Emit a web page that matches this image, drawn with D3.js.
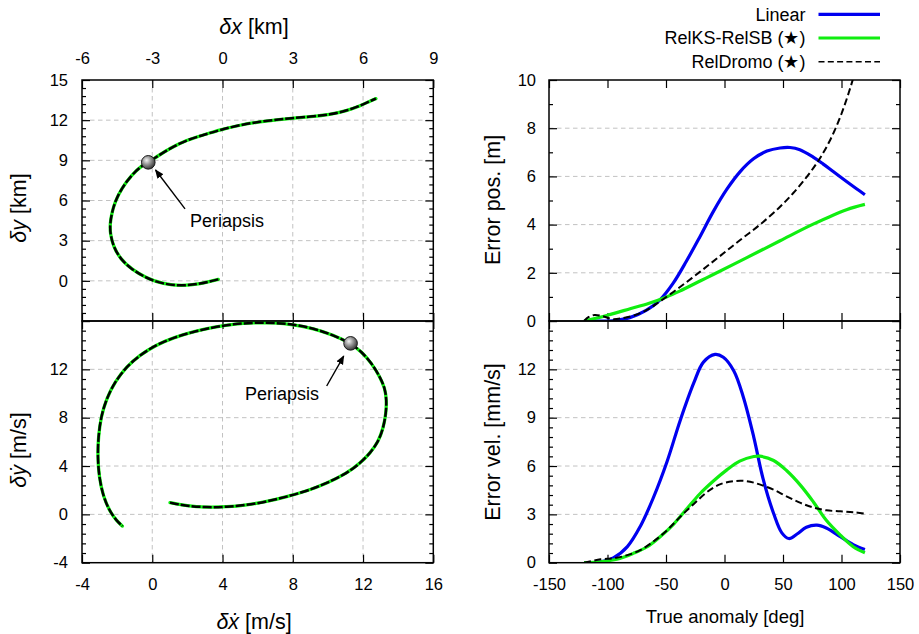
<!DOCTYPE html>
<html>
<head>
<meta charset="utf-8">
<script src="https://cdn.jsdelivr.net/npm/d3@7"></script>
<style>
  body { margin: 0; background: #fff; }
  svg { font-family: "Liberation Sans", Arial, Helvetica, sans-serif; }
</style>
</head>
<body>
<svg id="fig" width="919" height="634"></svg>
<script>
// ---------- data ----------
// relative position trajectory [km]
const posDx = [-0.18, -0.96, -1.75, -2.53, -3.24, -3.88, -4.35, -4.66, -4.80, -4.80, -4.73, -4.59, -4.31, -3.88, -3.45, -3.17, -2.81, -2.24, -1.53, -0.82, -0.11, 0.75, 1.60, 2.45, 3.02, 3.73, 4.59, 5.30, 5.87, 6.30, 6.55];
const posDy = [0.11, -0.24, -0.38, -0.24, 0.19, 0.86, 1.61, 2.55, 3.55, 4.30, 5.04, 5.91, 6.91, 7.91, 8.60, 8.85, 9.27, 9.90, 10.52, 10.89, 11.27, 11.64, 11.89, 12.06, 12.16, 12.26, 12.41, 12.71, 13.06, 13.43, 13.61];

// relative velocity trajectory [m/s]
const velDx = [1.01, 1.96, 3.10, 4.24, 5.37, 6.51, 7.65, 8.79, 9.93, 11.07, 11.83, 12.39, 12.87, 13.15, 13.31, 13.34, 13.25, 12.96, 12.49, 11.92, 11.29, 10.31, 9.17, 8.03, 6.89, 5.75, 4.61, 3.48, 2.34, 1.20, 0.25, -0.70, -1.46, -2.12, -2.60, -2.92, -3.07, -3.11, -3.03, -2.79, -2.41, -2.03, -1.70];
const velDy = [0.97, 0.69, 0.58, 0.61, 0.77, 1.05, 1.46, 1.93, 2.57, 3.39, 4.22, 5.05, 6.01, 7.12, 8.36, 9.46, 10.43, 11.39, 12.50, 13.46, 14.15, 14.84, 15.39, 15.72, 15.86, 15.86, 15.75, 15.48, 15.12, 14.62, 14.04, 13.19, 12.22, 10.98, 9.60, 8.08, 6.43, 4.77, 3.12, 1.46, 0.22, -0.52, -0.97];

// periapsis markers
const periPos = { x: -3.17, y: 8.85 };
const periVel = { x: 11.29, y: 14.15 };

// position error [m] vs true anomaly [deg]
const linPosNu  = [-120, -110, -96, -81, -67, -55.5, -44, -32.6, -21, -9.6, 1.9, 13.4, 24.8, 36.3, 47.5, 56, 64.4, 75.8, 84.4, 92.9, 104.3, 112.8, 120];
const linPosErr = [0, 0, 0.01, 0.14, 0.44, 0.86, 1.56, 2.48, 3.50, 4.54, 5.46, 6.20, 6.73, 7.05, 7.18, 7.20, 7.11, 6.80, 6.51, 6.20, 5.79, 5.49, 5.24];
const ksPosNu   = [-120, -100, -80, -65, -50, -38.3, -20, -9.6, 19.1, 47.5, 75.8, 104.3, 120];
const ksPosErr  = [0, 0.24, 0.52, 0.73, 0.99, 1.24, 1.68, 1.93, 2.63, 3.33, 4.02, 4.62, 4.84];
const droPosNu  = [-120, -116, -111, -104, -96, -88, -78, -67, -55.5, -38.3, -21, -4, 13.4, 30.6, 47.5, 58.8, 70, 78.7, 84.4, 90, 95.7, 100, 104.3, 108.5, 112];
const droPosErr = [0, 0.17, 0.25, 0.20, 0.08, 0.11, 0.22, 0.44, 0.80, 1.40, 2.04, 2.69, 3.36, 4.01, 4.74, 5.31, 5.96, 6.54, 6.98, 7.48, 8.08, 8.60, 9.19, 9.83, 10.41];

// velocity error [mm/s] vs true anomaly [deg]
const linVelNu  = [-120, -106, -95, -83, -72, -61, -49, -38, -26, -18, -8, -1, 8, 16, 25, 33, 42, 49, 55, 62, 70, 79, 87, 99, 110, 120];
const linVelErr = [0, 0.06, 0.30, 1.00, 2.25, 4.00, 6.30, 8.80, 11.20, 12.45, 12.93, 12.75, 11.90, 10.30, 7.80, 5.20, 3.05, 1.85, 1.50, 1.78, 2.20, 2.33, 2.15, 1.62, 1.12, 0.82];
const ksVelNu   = [-120, -106, -92, -78, -66, -55, -43, -32, -21, -9, 2, 13, 25, 30, 42, 53, 65, 76, 87, 99, 110, 120];
const ksVelErr  = [0, 0.06, 0.21, 0.58, 0.99, 1.61, 2.43, 3.36, 4.28, 5.10, 5.76, 6.30, 6.59, 6.61, 6.34, 5.72, 4.80, 3.77, 2.63, 1.71, 0.99, 0.62];
const droVelNu  = [-120, -106, -95, -83, -72, -61, -49, -38, -26, -15, -4, 8, 19, 30, 42, 53, 65, 76, 87, 99, 110, 120];
const droVelErr = [0, 0.21, 0.27, 0.47, 0.78, 1.30, 2.02, 2.84, 3.66, 4.38, 4.86, 5.06, 5.06, 4.86, 4.53, 4.12, 3.71, 3.42, 3.25, 3.19, 3.13, 3.05];

// axis ticks
const posXTicks = [-6, -3, 0, 3, 6, 9];
const posYTicks = [-3, 0, 3, 6, 9, 12, 15];
const velXTicks = [-4, 0, 4, 8, 12, 16];
const velYTicks = [-4, 0, 4, 8, 12, 16];
const nuTicks = [-150, -100, -50, 0, 50, 100, 150];
const errPosTicks = [0, 2, 4, 6, 8, 10];
const errVelTicks = [0, 3, 6, 9, 12, 15];

const seriesNames = ["Linear", "RelKS-RelSB (\u2605)", "RelDromo (\u2605)"];

// ---------- styles ----------
const C_LIN = "#0000f0", C_KS = "#10ee10", C_DRO = "#000";
const TICK_FONT = 16.5, TITLE_FONT = 21.5;

const svg = d3.select("#fig");
const defs = svg.append("defs");

// shaded sphere for the periapsis marker
const grad = defs.append("radialGradient").attr("id", "sphere")
  .attr("cx", "38%").attr("cy", "35%").attr("r", "65%");
grad.append("stop").attr("offset", "0%").attr("stop-color", "#f2f2f2");
grad.append("stop").attr("offset", "45%").attr("stop-color", "#9a9a9a");
grad.append("stop").attr("offset", "100%").attr("stop-color", "#3a3a3a");

defs.append("marker").attr("id", "arrowhead")
  .attr("viewBox", "0 0 10 10").attr("refX", 9).attr("refY", 5)
  .attr("markerWidth", 9).attr("markerHeight", 9).attr("markerUnits", "userSpaceOnUse")
  .attr("orient", "auto")
  .append("path").attr("d", "M0,0.8 L10,5 L0,9.2 Z").attr("fill", "#000");

let clipId = 0;

function minorValues(major, n) {
  const out = [];
  for (let i = 0; i < major.length - 1; i++) {
    const a = major[i], b = major[i + 1];
    for (let k = 1; k < n; k++) out.push(a + (b - a) * k / n);
  }
  return out;
}

// one framed panel with ticks, grid and labels
function panel(o) {
  const x = d3.scaleLinear().domain(o.xDomain).range([o.x0, o.x1]);
  const y = d3.scaleLinear().domain(o.yDomain).range([o.y1, o.y0]);
  const g = svg.append("g");

  const id = "clip" + (clipId++);
  defs.append("clipPath").attr("id", id).append("rect")
    .attr("x", o.x0).attr("y", o.y0).attr("width", o.x1 - o.x0).attr("height", o.y1 - o.y0);

  // grid
  const grid = g.append("g").attr("stroke", "#c2c2c2").attr("stroke-width", 1)
    .attr("stroke-dasharray", "4.5,3.5").attr("fill", "none");
  grid.selectAll("line.h")
    .data(o.yTicks.filter(v => v > o.yDomain[0] && v < o.yDomain[1]))
    .join("line").attr("class", "h")
    .attr("x1", o.x0).attr("x2", o.x1).attr("y1", d => y(d)).attr("y2", d => y(d));
  if (o.vGrid) {
    grid.selectAll("line.v")
      .data(o.xTicks.filter(v => v > o.xDomain[0] && v < o.xDomain[1]))
      .join("line").attr("class", "v")
      .attr("y1", o.y0).attr("y2", o.y1).attr("x1", d => x(d)).attr("x2", d => x(d));
  }

  const fmt = labels => d => (labels && labels.includes(d)) ? String(d) : "";
  const put = (gen, tr) => {
    const a = g.append("g").attr("transform", tr).call(gen);
    a.select(".domain").remove();
    a.attr("font-family", null).attr("font-size", TICK_FONT);
    a.selectAll("line").attr("stroke", "#000").attr("stroke-width", 1.2);
    a.selectAll("text").attr("fill", "#000");
    return a;
  };

  // y minor and major ticks on both sides
  const yMinor = minorValues(o.yTicks, o.yMinorN);
  put(d3.axisLeft(y).tickValues(yMinor).tickSize(-4).tickFormat(""), `translate(${o.x0},0)`);
  put(d3.axisRight(y).tickValues(yMinor).tickSize(-4).tickFormat(""), `translate(${o.x1},0)`);
  put(d3.axisLeft(y).tickValues(o.yTicks).tickSize(-8).tickPadding(o.yPad).tickFormat(fmt(o.yLabels)), `translate(${o.x0},0)`);
  put(d3.axisRight(y).tickValues(o.yTicks).tickSize(-8).tickFormat(""), `translate(${o.x1},0)`);

  // x ticks on top and bottom edges
  put(d3.axisTop(x).tickValues(o.xTicks).tickSize(-8).tickPadding(16)
      .tickFormat(o.xLabelSide === "top" ? fmt(o.xTicks) : ""), `translate(0,${o.y0})`);
  put(d3.axisBottom(x).tickValues(o.xTicks).tickSize(-8).tickPadding(16)
      .tickFormat(o.xLabelSide === "bottom" ? fmt(o.xTicks) : ""), `translate(0,${o.y1})`);

  const plot = g.append("g").attr("clip-path", `url(#${id})`);
  g.append("rect").attr("x", o.x0).attr("y", o.y0)
    .attr("width", o.x1 - o.x0).attr("height", o.y1 - o.y0)
    .attr("fill", "none").attr("stroke", "#000").attr("stroke-width", 1.5);
  return { x, y, g, plot };
}

// ---------- layout ----------
const LX0 = 82, LX1 = 433.3, RX0 = 549, RX1 = 900;
const Y0 = 80, YM = 321, Y1 = 562.7;

// trajectories (all methods overlap at this scale)
function trajectory(p, xs, ys, peri) {
  const pts = xs.map((v, i) => [v, ys[i]]);
  const line = d3.line().x(d => p.x(d[0])).y(d => p.y(d[1])).curve(d3.curveBasis);
  p.plot.append("path").attr("d", line(pts)).attr("fill", "none")
    .attr("stroke", C_KS).attr("stroke-width", 3.3).attr("stroke-linecap", "round");
  p.plot.append("path").attr("d", line(pts)).attr("fill", "none")
    .attr("stroke", C_DRO).attr("stroke-width", 2.5).attr("stroke-dasharray", "9,2");
  p.plot.append("circle").attr("cx", p.x(peri.x)).attr("cy", p.y(peri.y)).attr("r", 6.8)
    .attr("fill", "url(#sphere)").attr("stroke", "#1a1a1a").attr("stroke-width", 1);
}

function annotate(p, tail, head, textPos) {
  p.g.append("line")
    .attr("x1", p.x(tail[0])).attr("y1", p.y(tail[1]))
    .attr("x2", p.x(head[0])).attr("y2", p.y(head[1]))
    .attr("stroke", "#000").attr("stroke-width", 1.4).attr("marker-end", "url(#arrowhead)");
  p.g.append("text").attr("x", p.x(textPos[0])).attr("y", p.y(textPos[1]))
    .attr("font-size", 18).attr("fill", "#000").text("Periapsis");
}

// top-left: position
const pPos = panel({
  x0: LX0, x1: LX1, y0: Y0, y1: YM,
  xDomain: [-6, 9], yDomain: [-3, 15],
  xTicks: posXTicks, yTicks: posYTicks, yMinorN: 5,
  yLabels: [0, 3, 6, 9, 12, 15], yPad: 14, xLabelSide: "top", vGrid: true
});
trajectory(pPos, posDx, posDy, periPos);
annotate(pPos, [-1.6, 5.37], [-2.86, 8.28], [-1.39, 4.04]);

// bottom-left: velocity
const pVel = panel({
  x0: LX0, x1: LX1, y0: YM, y1: Y1,
  xDomain: [-4, 16], yDomain: [-4, 16],
  xTicks: velXTicks, yTicks: velYTicks, yMinorN: 5,
  yLabels: [-4, 0, 4, 8, 12], yPad: 14, xLabelSide: "bottom", vGrid: true
});
trajectory(pVel, velDx, velDy, periVel);
annotate(pVel, [9.93, 10.62], [10.9, 13.1], [5.28, 9.46]);

// right panels: errors vs true anomaly
const pErrPos = panel({
  x0: RX0, x1: RX1, y0: Y0, y1: YM,
  xDomain: [-150, 150], yDomain: [0, 10],
  xTicks: nuTicks, yTicks: errPosTicks, yMinorN: 2,
  yLabels: errPosTicks, yPad: 13, xLabelSide: null, vGrid: false
});
const pErrVel = panel({
  x0: RX0, x1: RX1, y0: YM, y1: Y1,
  xDomain: [-150, 150], yDomain: [0, 15],
  xTicks: nuTicks, yTicks: errVelTicks, yMinorN: 5,
  yLabels: [0, 3, 6, 9, 12], yPad: 13, xLabelSide: "bottom", vGrid: false
});

function errCurve(p, nu, err, color, width, dash) {
  const line = d3.line().x((d, i) => p.x(nu[i])).y(d => p.y(d)).curve(d3.curveCatmullRom.alpha(0.5));
  const path = p.plot.append("path").attr("d", line(err)).attr("fill", "none")
    .attr("stroke", color).attr("stroke-width", width).attr("stroke-linejoin", "round");
  if (dash) path.attr("stroke-dasharray", dash);
}

errCurve(pErrPos, linPosNu, linPosErr, C_LIN, 3.2);
errCurve(pErrPos, ksPosNu, ksPosErr, C_KS, 3.2);
errCurve(pErrPos, droPosNu, droPosErr, C_DRO, 2, "7,3.5");

errCurve(pErrVel, linVelNu, linVelErr, C_LIN, 3.2);
errCurve(pErrVel, ksVelNu, ksVelErr, C_KS, 3.2);
errCurve(pErrVel, droVelNu, droVelErr, C_DRO, 2, "7,3.5");

// ---------- axis titles ----------
function title(x, y, rotate, parts, size) {
  const t = svg.append("text").attr("font-size", size || TITLE_FONT).attr("fill", "#000")
    .attr("text-anchor", "middle")
    .attr("transform", `translate(${x},${y})` + (rotate ? " rotate(-90)" : ""));
  parts.forEach(([s, it]) => t.append("tspan").attr("font-style", it ? "italic" : null).text(s));
  return t;
}
title(254, 34, false, [["\u03b4x", true], [" [km]", false]]);
title(26, 208, true, [["\u03b4y", true], [" [km]", false]]);
title(254, 629, false, [["\u03b4\u1e8b", true], [" [m/s]", false]]);
title(26, 450, true, [["\u03b4\u1e8f", true], [" [m/s]", false]]);
title(500, 200, true, [["Error pos. [m]", false]]);
title(500, 442, true, [["Error vel. [mm/s]", false]]);
title(725, 623, false, [["True anomaly [deg]", false]], 18.5);

// ---------- legend ----------
const legend = svg.append("g");
const legStyles = [[C_LIN, 3.2, null], [C_KS, 3.2, null], [C_DRO, 1.6, "6,3.3"]];
seriesNames.forEach((name, i) => {
  const ly = 14.3 + i * 23.7;
  legend.append("text").attr("x", 805.5).attr("y", ly).attr("dy", "0.35em")
    .attr("text-anchor", "end").attr("font-size", 18).attr("fill", "#000").text(name);
  const l = legend.append("line").attr("x1", 818.5).attr("x2", 880).attr("y1", ly).attr("y2", ly)
    .attr("stroke", legStyles[i][0]).attr("stroke-width", legStyles[i][1]);
  if (legStyles[i][2]) l.attr("stroke-dasharray", legStyles[i][2]);
});
</script>
</body>
</html>
